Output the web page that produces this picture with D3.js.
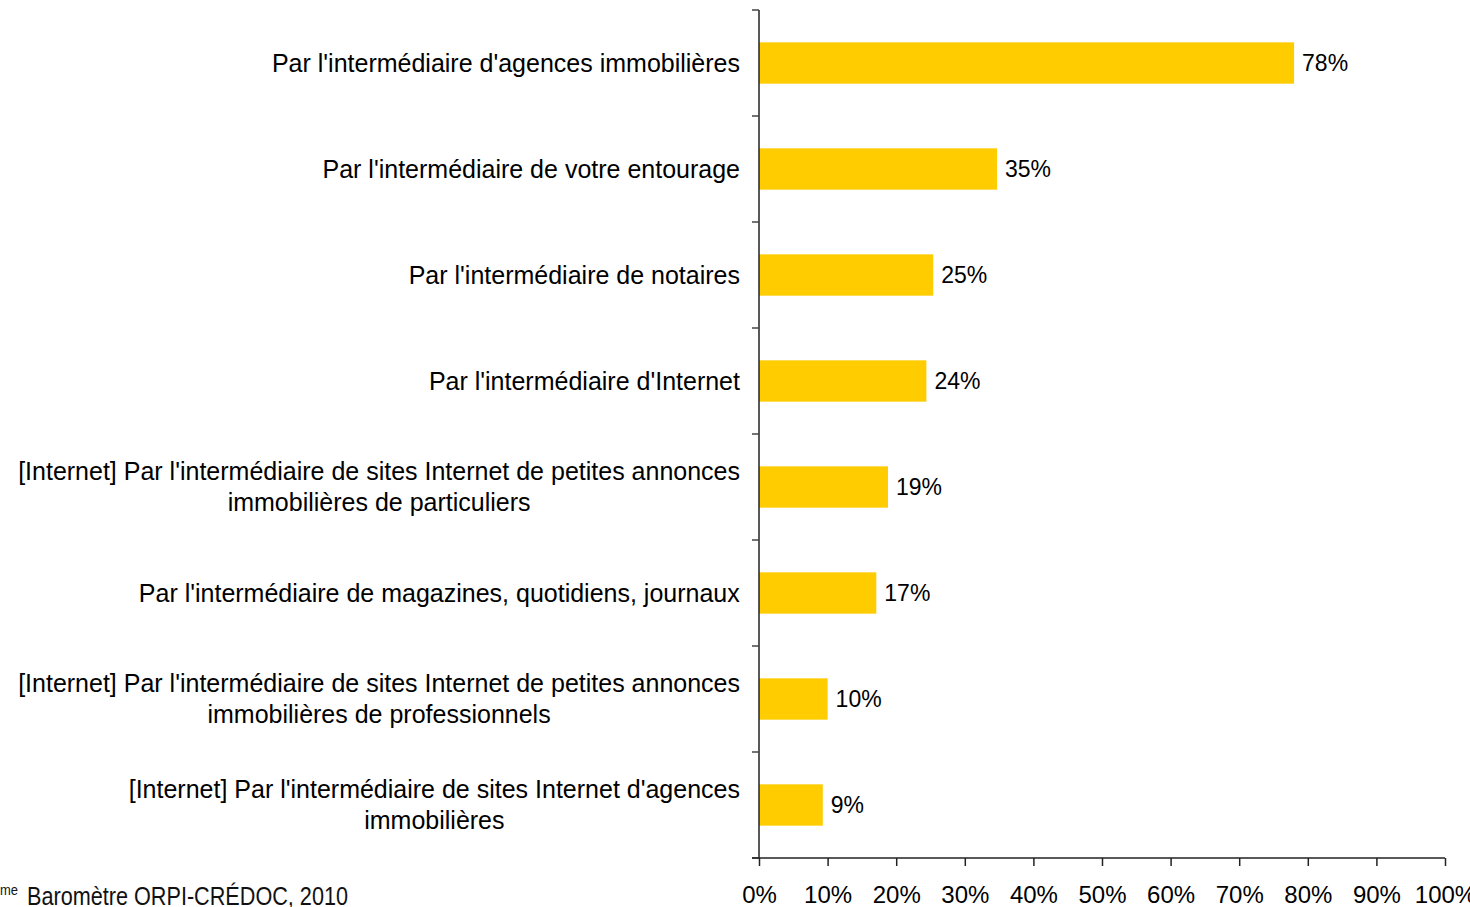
<!DOCTYPE html>
<html><head><meta charset="utf-8">
<script src="https://cdn.jsdelivr.net/npm/d3@7"></script>
<style>body{margin:0;background:#fff;overflow:hidden}svg{display:block}</style>
</head><body>
<svg id="c" width="1470" height="907"></svg>
<script>
const categories = [
  ["Par l'intermédiaire d'agences immobilières"],
  ["Par l'intermédiaire de votre entourage"],
  ["Par l'intermédiaire de notaires"],
  ["Par l'intermédiaire d'Internet"],
  ["[Internet] Par l'intermédiaire de sites Internet de petites annonces", "immobilières de particuliers"],
  ["Par l'intermédiaire de magazines, quotidiens, journaux"],
  ["[Internet] Par l'intermédiaire de sites Internet de petites annonces", "immobilières de professionnels"],
  ["[Internet] Par l'intermédiaire de sites Internet d'agences", "immobilières"]
];
const values = [78.0, 34.7, 25.4, 24.4, 18.8, 17.1, 10.0, 9.3];
const tickValues = [0, 10, 20, 30, 40, 50, 60, 70, 80, 90, 100];

const svg = d3.select("#c");
const x = d3.scaleLinear().domain([0, 100]).range([759, 1445]);
const y = d3.scaleBand().domain(d3.range(categories.length)).range([10, 858]).paddingInner(0.61).paddingOuter(0.305);
const yb = d3.scaleBand().domain(d3.range(categories.length)).range([10, 858]);

// bars
svg.selectAll("rect.bar").data(values).join("rect")
  .attr("x", x(0)).attr("y", (d,i)=>y(i))
  .attr("width", d=>x(d)-x(0)).attr("height", y.bandwidth())
  .attr("fill", "#FFCC00");

// value labels
svg.selectAll("text.val").data(values).join("text")
  .attr("x", d=>x(d)+8).attr("y", (d,i)=>y(i)+y.bandwidth()/2)
  .attr("dy", "0.35em")
  .attr("font-family", "Liberation Sans, Arial, sans-serif").attr("font-size", 23)
  .attr("fill", "#000").text(d=>Math.round(d)+"%");

// category labels
const lbl = svg.append("g").attr("font-family", "Liberation Sans, Arial, sans-serif").attr("font-size", 25).attr("fill","#000");
categories.forEach((lines,i)=>{
  const cy = yb(i) + yb.bandwidth()/2;
  const lh = 31;
  const g = lbl.append("g");
  const t = g.append("text");
  lines.forEach((l,j)=>{
    t.append("tspan").attr("x", 0).attr("y", cy + (j - (lines.length-1)/2)*lh).attr("dy","0.35em").attr("text-anchor","middle").text(l);
  });
  const bb = t.node().getBBox();
  g.attr("transform", `translate(${740 - bb.width/2},0)`);
});

// y axis
const yAxis = svg.append("g").attr("transform", `translate(${x(0)},0)`);
yAxis.append("line").attr("x1",0).attr("x2",0).attr("y1",10).attr("y2",858).attr("stroke","#222").attr("stroke-width",1.5);
yAxis.selectAll("line.t").data(d3.range(categories.length+1)).join("line")
  .attr("x1",-7).attr("x2",0)
  .attr("y1",d=>d<categories.length?yb(d):858).attr("y2",d=>d<categories.length?yb(d):858)
  .attr("stroke","#444").attr("stroke-width",1.5);

// x axis
const xAxis = d3.axisBottom(x).tickValues(tickValues).tickSize(8).tickFormat(d=>d+"%");
const gx = svg.append("g").attr("transform","translate(0,858)").call(xAxis);
gx.select(".domain").attr("stroke","#222").attr("stroke-width",1.5).attr("d", `M${x(0)-7},0H${x(100)}`);
gx.selectAll(".tick line").attr("stroke","#222").attr("stroke-width",1.5);
gx.selectAll(".tick text").attr("font-family","Liberation Sans, Arial, sans-serif").attr("font-size",24).attr("fill","#000").attr("y",28).attr("dy","0.71em");

// source
const src = svg.append("text").attr("x", 0).attr("y", 905).attr("font-family","Liberation Sans Narrow, Arial Narrow, sans-serif").attr("fill","#111");
src.append("tspan").attr("font-size",15).attr("dy",-10).attr("textLength",18).attr("lengthAdjust","spacingAndGlyphs").text("me");
src.append("tspan").attr("font-size",26).attr("x",27).attr("y",905).attr("textLength",321).attr("lengthAdjust","spacingAndGlyphs").text("Baromètre ORPI-CRÉDOC, 2010");
</script>
</body></html>
